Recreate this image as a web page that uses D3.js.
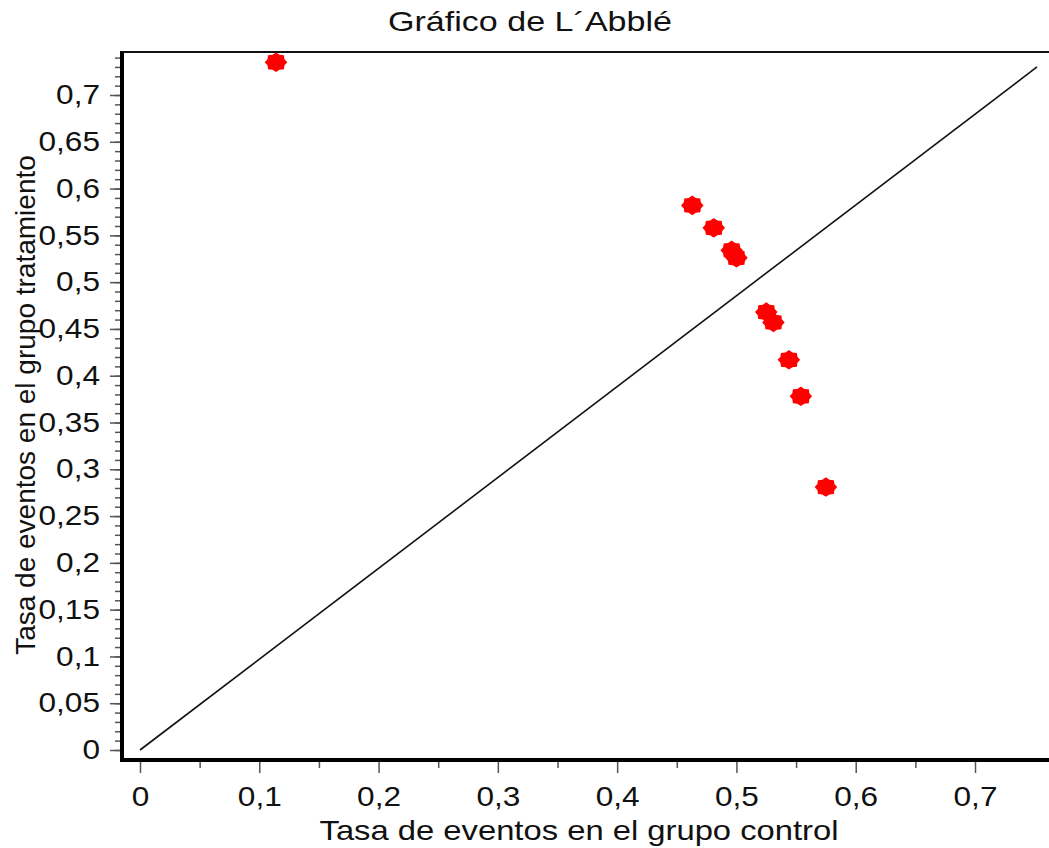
<!DOCTYPE html>
<html>
<head>
<meta charset="utf-8">
<script src="https://cdn.jsdelivr.net/npm/d3@7/dist/d3.min.js"></script>
<style>
  body { margin: 0; background: #fff; }
  svg { display: block; }
</style>
</head>
<body>
<svg id="chart" width="1049" height="848"></svg>
<script>
// L'Abbé plot: event rate in control group (x) vs treatment group (y)
const controlRate = [0.114, 0.463, 0.481, 0.496, 0.500, 0.525, 0.531, 0.544, 0.554, 0.575];
const treatRate   = [0.735, 0.582, 0.558, 0.534, 0.526, 0.468, 0.457, 0.417, 0.378, 0.281];

const xTickValues = [0, 0.1, 0.2, 0.3, 0.4, 0.5, 0.6, 0.7];
const yTickValues = [0, 0.05, 0.1, 0.15, 0.2, 0.25, 0.3, 0.35, 0.4, 0.45, 0.5, 0.55, 0.6, 0.65, 0.7];
// reference line as drawn in the original (start and end)
const diagonalX = [0, 0.752];
const diagonalY = [0, 0.730];

const titleText = "Gráfico de L´Abblé";
const xLabel = "Tasa de eventos en el grupo control";
const yLabel = "Tasa de eventos en el grupo tratamiento";

const svg = d3.select("#chart");
const W = 1049, H = 848;
const frame = { left: 122, top: 52, bottom: 760 };
const stretch = 1.17;   // the original is a bit wider than tall
const font = "'Liberation Sans', Arial, sans-serif";
const tickColor = "#555";

const x = d3.scaleLinear().domain([0, 0.7]).range([140, 975]);
const y = d3.scaleLinear().domain([0, 0.7]).range([750, 95]);

const locale = d3.formatLocale({ decimal: ",", thousands: ".", grouping: [3], currency: ["", "€"] });
const fmt = locale.format("~f");

svg.append("rect").attr("width", W).attr("height", H).attr("fill", "#fff");

// title
svg.append("text")
    .attr("transform", `translate(530,31) scale(${stretch * 1.04},1)`)
    .attr("text-anchor", "middle")
    .attr("font-family", font)
    .attr("font-size", 28)
    .attr("fill", "#111")
    .text(titleText);

// minor ticks
const yMinor = d3.range(0, 0.745, 0.01);
svg.append("g")
    .attr("transform", `translate(${frame.left - 2},0)`)
    .call(d3.axisLeft(y).tickValues(yMinor).tickSize(5).tickFormat(""))
    .call(g => g.select(".domain").remove())
    .selectAll("line").attr("stroke", tickColor).attr("stroke-width", 1.5);

const xMinor = d3.range(0.05, 0.75, 0.1);
svg.append("g")
    .attr("transform", `translate(0,${frame.bottom + 2})`)
    .call(d3.axisBottom(x).tickValues(xMinor).tickSize(6).tickFormat(""))
    .call(g => g.select(".domain").remove())
    .selectAll("line").attr("stroke", tickColor).attr("stroke-width", 1.5);

// major ticks + labels
const yAxis = svg.append("g")
    .attr("transform", `translate(${frame.left - 2},0)`)
    .call(d3.axisLeft(y).tickValues(yTickValues).tickSize(10).tickPadding(10).tickFormat(fmt));
yAxis.select(".domain").remove();
yAxis.selectAll("line").attr("stroke", tickColor).attr("stroke-width", 1.5);
yAxis.selectAll("text")
    .attr("font-family", font).attr("font-size", 27).attr("fill", "#111")
    .attr("x", -20 / stretch)
    .attr("transform", `scale(${stretch},1)`);

const xAxis = svg.append("g")
    .attr("transform", `translate(0,${frame.bottom + 2})`)
    .call(d3.axisBottom(x).tickValues(xTickValues).tickSize(11).tickPadding(14).tickFormat(fmt));
xAxis.select(".domain").remove();
xAxis.selectAll("line").attr("stroke", tickColor).attr("stroke-width", 1.5);
xAxis.selectAll("text")
    .attr("font-family", font).attr("font-size", 27).attr("fill", "#111")
    .attr("transform", `scale(${stretch},1)`);

// frame: thick left + bottom, thinner top, right side runs off the picture
svg.append("line")
    .attr("x1", frame.left).attr("x2", frame.left)
    .attr("y1", frame.top - 1).attr("y2", frame.bottom + 2)
    .attr("stroke", "#000").attr("stroke-width", 4);
svg.append("line")
    .attr("x1", frame.left - 2).attr("x2", W)
    .attr("y1", frame.bottom).attr("y2", frame.bottom)
    .attr("stroke", "#000").attr("stroke-width", 4);
svg.append("line")
    .attr("x1", frame.left).attr("x2", W)
    .attr("y1", frame.top).attr("y2", frame.top)
    .attr("stroke", "#111").attr("stroke-width", 2);

// diagonal (no-effect line)
svg.append("line")
    .attr("x1", x(diagonalX[0])).attr("y1", y(diagonalY[0]))
    .attr("x2", x(diagonalX[1])).attr("y2", y(diagonalY[1]))
    .attr("stroke", "#111").attr("stroke-width", 1.6);

// star markers
const star = d3.lineRadial().curve(d3.curveLinearClosed)(
    d3.range(16).map(i => [i * Math.PI / 8, i % 2 ? 8.0 : 9.8]));

const points = controlRate.map((c, i) => ({ c, t: treatRate[i] }));
svg.append("g")
    .selectAll("path")
    .data(points)
    .join("path")
    .attr("d", star)
    .attr("transform", d => `translate(${x(d.c)},${y(d.t)}) scale(1.15,1)`)
    .attr("fill", "#ff0000");

// axis titles
svg.append("text")
    .attr("transform", `translate(579,840) scale(${stretch},1)`)
    .attr("text-anchor", "middle")
    .attr("font-family", font)
    .attr("font-size", 28)
    .attr("fill", "#111")
    .text(xLabel);

svg.append("text")
    .attr("transform", "translate(35,405) rotate(-90)")
    .attr("text-anchor", "middle")
    .attr("font-family", font)
    .attr("font-size", 28)
    .attr("fill", "#111")
    .text(yLabel);
</script>
</body>
</html>
